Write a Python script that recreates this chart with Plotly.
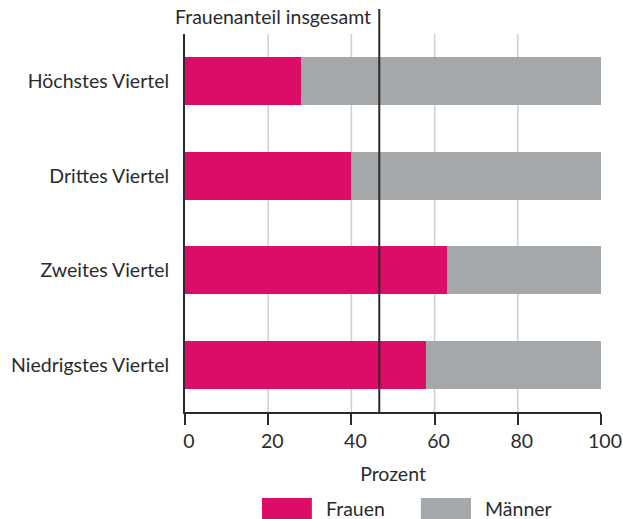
import plotly.graph_objects as go

categories = ["Niedrigstes Viertel", "Zweites Viertel", "Drittes Viertel", "Höchstes Viertel"]
frauen = [57.9, 62.9, 39.9, 27.9]
maenner = [100 - v for v in frauen]
frauenanteil_insgesamt = 46.7
x_ticks = [0, 20, 40, 60, 80, 100]
series_names = ["Frauen", "Männer"]

PINK = "#DC0D66"
GRAY = "#A5A8AB"
TEXT = "#2b2b2b"
FONT = "Lato"
FS = 19.5

fig = go.Figure()
fig.add_trace(go.Bar(y=categories, x=frauen, orientation="h", name=series_names[0],
                     marker=dict(color=PINK, line=dict(width=0)), showlegend=False))
fig.add_trace(go.Bar(y=categories, x=maenner, orientation="h", name=series_names[1],
                     marker=dict(color=GRAY, line=dict(width=0)), showlegend=False))

fig.update_layout(
    barmode="stack",
    bargap=0.49,
    width=623, height=519,
    margin=dict(l=185, r=22, t=34, b=107, autoexpand=False),
    plot_bgcolor="white", paper_bgcolor="white",
    font=dict(family=FONT, size=FS, color=TEXT),
    xaxis=dict(range=[0, 100], tickvals=x_ticks, showgrid=False, automargin=False,
               showline=True, linecolor=TEXT, linewidth=2, ticks="outside", ticklen=11,
               tickwidth=2, tickcolor=TEXT, zeroline=False, ticklabelshift=4,
               title=dict(text="Prozent", standoff=16, font=dict(size=FS))),
    yaxis=dict(showline=True, linecolor=TEXT, linewidth=2, ticks="", showgrid=False,
               automargin=False, ticklabelstandoff=10, range=[-0.5, 3.5]),
)

for v in x_ticks[1:-1]:
    fig.add_shape(type="line", xref="x", yref="paper", x0=v, x1=v, y0=0, y1=1,
                  line=dict(color="#cfcfcf", width=1.5), layer="below")

fig.add_shape(type="line", xref="x", yref="paper", x0=frauenanteil_insgesamt, x1=frauenanteil_insgesamt,
              y0=0, y1=1.066, line=dict(color=TEXT, width=2), layer="above")
fig.add_annotation(text="Frauenanteil insgesamt", xref="x", yref="paper", x=frauenanteil_insgesamt,
                   y=1.045, xanchor="right", yanchor="middle", xshift=-6, showarrow=False,
                   font=dict(size=FS, color=TEXT))

leg = [(series_names[0], PINK, 0.185, 0.305, 0.334), (series_names[1], GRAY, 0.567, 0.6875, 0.716)]
for name, col, a, b, t in leg:
    fig.add_shape(type="rect", xref="paper", yref="paper", x0=a, x1=b, y0=-0.2275, y1=-0.285,
                  fillcolor=col, line=dict(width=0))
    fig.add_annotation(text=name, xref="paper", yref="paper", x=t, y=-0.255, xanchor="left",
                       yanchor="middle", showarrow=False, font=dict(size=FS, color=TEXT))

fig.write_html("out.html", config={"displayModeBar": False},
               post_script="document.body.style.margin='0';")
